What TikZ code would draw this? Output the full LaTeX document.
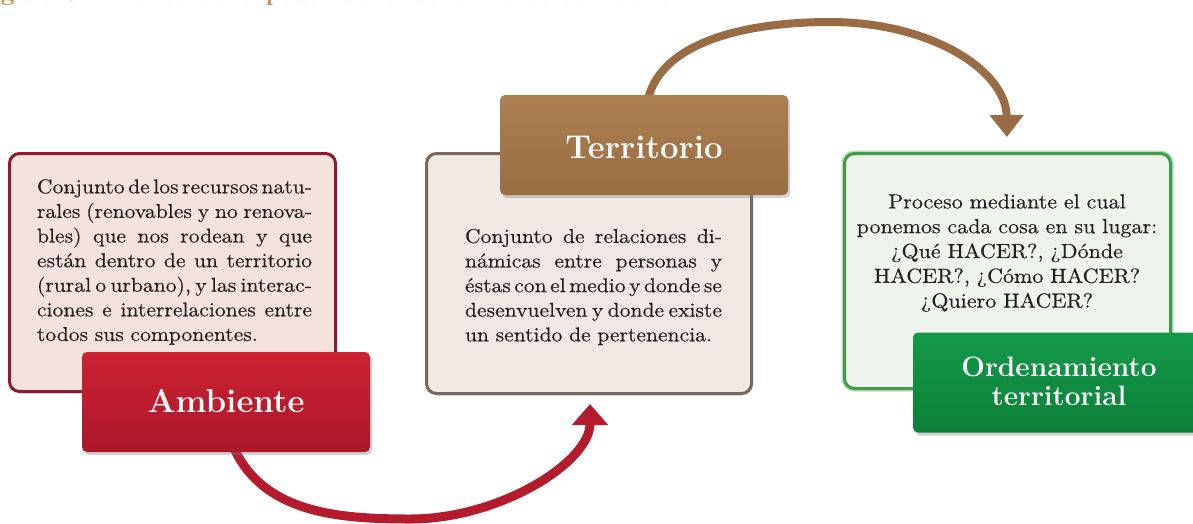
\documentclass[tikz,border=0pt]{standalone}
\usepackage{fontspec}
\newfontfamily\bodyfont{lmroman10-regular.otf}[FakeStretch=1.08, FakeBold=0.3]
\newcommand{\jl}[2]{\leavevmode\hbox to #1{\spaceskip=0.2em plus 2em minus 0.06em\relax #2}}
\usetikzlibrary{arrows.meta,shadows,calc}
\definecolor{txt}{HTML}{231F20}
\definecolor{ambborder}{HTML}{8E1B2B}
\definecolor{ambfill}{HTML}{F4E2DC}
\definecolor{ambtop}{HTML}{CC2233}
\definecolor{ambbot}{HTML}{AC172A}
\definecolor{terborder}{HTML}{76685B}
\definecolor{terfill}{HTML}{F0E8E2}
\definecolor{tertop}{HTML}{AC7F52}
\definecolor{terbot}{HTML}{9A6C42}
\definecolor{ordborder}{HTML}{3F9A4A}
\definecolor{ordglow}{HTML}{B5DDB5}
\definecolor{ordfill}{HTML}{EEF4EC}
\definecolor{ordtop}{HTML}{14994A}
\definecolor{ordbot}{HTML}{0C8038}
\definecolor{capcol}{HTML}{D08040}
\definecolor{redarr}{HTML}{B41C2E}
\definecolor{brownarr}{HTML}{9A6C45}
\begin{document}
\begin{tikzpicture}[x=1pt,y=-1pt,
  infobox/.style={rectangle, rounded corners=10pt, line width=3pt, inner sep=0pt,
    minimum width=#1, minimum height=238pt,
    drop shadow={shadow xshift=1.5pt, shadow yshift=-2pt, opacity=0.25}},
  labelbox/.style={rectangle, rounded corners=5pt, inner sep=0pt,
    minimum width=288pt, minimum height=100pt,
    drop shadow={shadow xshift=2pt, shadow yshift=-3pt, opacity=0.35}},
  labeltext/.style={text=white, inner sep=0pt, align=center, font=\fontsize{33}{30}\selectfont\bfseries},
  bodytext/.style={inner sep=0pt, text=txt, font=\bodyfont\fontsize{20}{24.6}\selectfont},
  redshaft/.style={draw=redarr, line width=9pt, -{Triangle[length=21pt,width=35pt]}},
  brownshaft/.style={draw=brownarr, line width=8pt, -{Triangle[length=22pt,width=33pt]}}
]
\useasboundingbox (0,0) rectangle (1193,523);
\clip (0,0) rectangle (1193,523);
\fill[white] (0,0) rectangle (1193,523);

% cut-off caption
\node[anchor=base west, inner sep=0pt, text=capcol, font=\fontsize{25}{25}\selectfont\bfseries] (caption) at (-25,0.5)
  {Figura 3.4 Marco conceptual del ordenamiento territorial};

% named anchors for the connectors
\coordinate (ambS) at (226,452);
\coordinate (terN) at (644,95);
\coordinate (terS) at (589,395);
\coordinate (ordN) at (1007.5,152);
\coordinate (rbot) at (410,519);
\coordinate (btop) at (830,22);

% connectors
\draw[redshaft] ($(ambS)+(7,-6)$) .. controls (262,512) and (335,519) .. (rbot)
   .. controls (500,519) and (590,462) .. ($(terS)+(1,9)$);
\draw[brownshaft] ($(terN)+(4,4)$) .. controls (662,42) and (745,22) .. (btop)
   .. controls (930,22) and (1006,70) .. ($(ordN)+(-0.5,-15)$);

% boxes
\node[infobox=326pt, draw=ambborder, fill=ambfill] (ambbox) at (172.5,272.5) {};
\node[infobox=325pt, minimum height=240pt, draw=terborder, fill=terfill] (terbox) at (589,273.5) {};
\node[infobox=326pt, minimum height=235pt, draw=ordborder, fill=ordfill,
      preaction={draw=ordglow, line width=6pt}] (ordbox) at (1007.5,271) {};

% labels
\node[labelbox, top color=ambtop, bottom color=ambbot] (amblab) at (226,402) {};
\node[labelbox, top color=tertop, bottom color=terbot] (terlab) at (644,145) {};
\node[labelbox, top color=ordtop, bottom color=ordbot] (ordlab) at (1057,382.5) {};

\node[labeltext] (ambtitle) at ($(amblab)+(0,-1)$) {Ambiente};
\node[labeltext] (tertitle) at ($(terlab)+(0,2)$) {Territorio};
\node[labeltext, font=\fontsize{28}{29}\selectfont\bfseries] (ordtitle) at ($(ordlab)+(2,-1)$) {Ordenamiento\\territorial};

% body texts
\node[bodytext, text width=275pt, align=left] (ambtext) at (174.5,262) {%
\jl{275pt}{Conjunto de los recursos natu-}\\
\jl{275pt}{rales (renovables y no renova-}\\
\jl{275pt}{bles) que nos rodean y que}\\
\jl{275pt}{están dentro de un territorio}\\
\jl{275pt}{(rural o urbano), y las interac-}\\
\jl{275pt}{ciones e interrelaciones entre}\\
todos sus componentes.};

\node[bodytext, text width=257pt, align=left] (tertext) at (593.5,287) {%
\jl{257pt}{Conjunto de relaciones di-}\\
\jl{257pt}{námicas entre personas y}\\
\jl{257pt}{éstas con el medio y donde se}\\
\jl{257pt}{desenvuelven y donde existe}\\
un sentido de pertenencia.};

\node[bodytext, text width=320pt, align=center, font=\bodyfont\fontsize{20.4}{24.8}\selectfont] (ordtext) at (1007,253) {%
Proceso mediante el cual\\
ponemos cada cosa en su lugar:\\
¿Qué HACER?, ¿Dónde\\
HACER?, ¿Cómo HACER?\\
¿Quiero HACER?};
\end{tikzpicture}
\end{document}
